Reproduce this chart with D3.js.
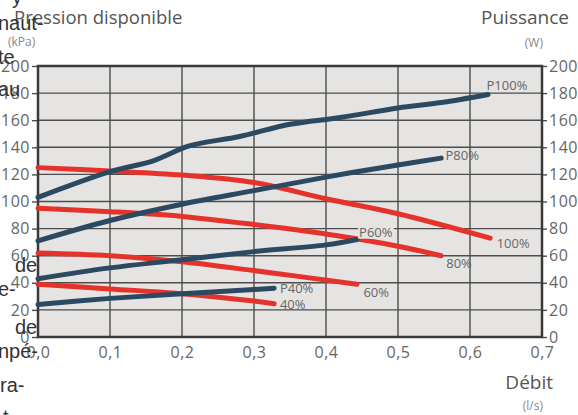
<!DOCTYPE html>
<html>
<head>
<meta charset="utf-8">
<title>Pression disponible / Puissance</title>
<script src="https://d3js.org/d3.v7.min.js"></script>
<style>
  body { margin: 0; background: #fff; }
  svg text { font-family: "Open Sans", sans-serif; }
</style>
</head>
<body>
<div id="chart"></div>
<script>
// flow values in l/s, pressure in kPa (left), power in W (right)
const xTicks = [0, 0.1, 0.2, 0.3, 0.4, 0.5, 0.6, 0.7];
const yTicks = [0, 20, 40, 60, 80, 100, 120, 140, 160, 180, 200];

// power curves (blue, right axis)
const p100 = [[0,103],[0.1,122],[0.16,130],[0.21,141],[0.28,148],[0.35,157],[0.42,162],[0.5,169],[0.56,173],[0.625,179]];
const p80 = [[0,71],[0.1,86],[0.2,98],[0.3,108],[0.4,118],[0.5,127],[0.56,132]];
const p60 = [[0,43],[0.1,51],[0.2,57],[0.3,63],[0.4,68],[0.443,72]];
const p40 = [[0,24],[0.1,28.5],[0.2,32],[0.3,35],[0.328,36]];

// pressure curves (red, left axis)
const h100 = [[0,125],[0.1,122.5],[0.2,119.5],[0.3,114],[0.4,102],[0.5,91],[0.628,73]];
const h80 = [[0,95],[0.1,92.5],[0.2,89],[0.3,83],[0.4,76],[0.5,67],[0.56,60]];
const h60 = [[0,62],[0.1,60],[0.2,55.5],[0.3,49],[0.443,39]];
const h40 = [[0,39],[0.1,35.5],[0.2,32],[0.3,26.5],[0.328,24.5]];

const powerSeries = [p100, p80, p60, p40];
const pressureSeries = [h100, h80, h60, h40];

// curve labels: text and anchor point in data units
const curveLabels = [
  {text: "P100%", x: 0.623, y: 182},
  {text: "P80%", x: 0.566, y: 130.5},
  {text: "P60%", x: 0.446, y: 74},
  {text: "P40%", x: 0.336, y: 32.5},
  {text: "100%", x: 0.637, y: 66},
  {text: "80%", x: 0.567, y: 51},
  {text: "60%", x: 0.452, y: 29.5},
  {text: "40%", x: 0.336, y: 20.5}
];

// bits of the surrounding page text that show at the left edge
const pageBits = [
  {t: "y", x: 12, y: 4}, {t: "naut-", x: -2, y: 30}, {t: "te", x: -2, y: 64},
  {t: "au", x: -2, y: 96}, {t: "de", x: 15, y: 272}, {t: "e-", x: -2, y: 296},
  {t: "de", x: 15, y: 334}, {t: "npé-", x: -2, y: 358}, {t: "ra-", x: 0, y: 392},
  {t: "t", x: 3, y: 424}
];

const W = 578, H = 415;
const svg = d3.select("#chart").append("svg").attr("width", W).attr("height", H);

const x = d3.scaleLinear().domain([0, 0.7]).range([38, 542]);
const y = d3.scaleLinear().domain([0, 200]).range([337, 66]);

const fmt = v => d3.format(".1f")(v).replace(".", ",");

// plot background
svg.append("rect")
  .attr("x", x(0)).attr("y", y(200))
  .attr("width", x(0.7) - x(0)).attr("height", y(0) - y(200))
  .attr("fill", "#e5e4e2");

// grid
svg.append("g").selectAll("line").data(yTicks).join("line")
  .attr("x1", x(0)).attr("x2", x(0.7))
  .attr("y1", d => y(d)).attr("y2", d => y(d))
  .attr("stroke", "#4d4d4d").attr("stroke-width", 1.4);
svg.append("g").selectAll("line").data(xTicks).join("line")
  .attr("x1", d => x(d)).attr("x2", d => x(d))
  .attr("y1", y(0)).attr("y2", y(200))
  .attr("stroke", "#4d4d4d").attr("stroke-width", 1.4);

// axes
const axisL = svg.append("g").attr("transform", `translate(${x(0)},0)`)
  .call(d3.axisLeft(y).tickValues(yTicks).tickSize(6).tickPadding(2));
const axisR = svg.append("g").attr("transform", `translate(${x(0.7)},0)`)
  .call(d3.axisRight(y).tickValues(yTicks).tickSize(5).tickPadding(2));
const axisB = svg.append("g").attr("transform", `translate(0,${y(0)})`)
  .call(d3.axisBottom(x).tickValues(xTicks).tickFormat(fmt).tickSize(0).tickPadding(10));
[axisL, axisR, axisB].forEach(g => {
  g.select(".domain").remove();
  g.selectAll(".tick line").attr("stroke", "#4d4d4d").attr("stroke-width", 1.4);
  g.selectAll(".tick text").attr("fill", "#666")
    .style("font-size", "16px").style("letter-spacing", "0.5px");
});

// frame
svg.append("rect")
  .attr("x", x(0)).attr("y", y(200))
  .attr("width", x(0.7) - x(0)).attr("height", y(0) - y(200))
  .attr("fill", "none").attr("stroke", "#3a3a3a").attr("stroke-width", 2.5);

const line = d3.line().x(d => x(d[0])).y(d => y(d[1])).curve(d3.curveCatmullRom.alpha(0.5));

// pressure curves
svg.append("g").selectAll("path").data(pressureSeries).join("path")
  .attr("d", line).attr("fill", "none")
  .attr("stroke", "#e5322b").attr("stroke-width", 5).attr("stroke-linecap", "round");

// power curves
svg.append("g").selectAll("path").data(powerSeries).join("path")
  .attr("d", line).attr("fill", "none")
  .attr("stroke", "#2b4a62").attr("stroke-width", 5).attr("stroke-linecap", "round");

// curve labels
const lg = svg.append("g");
curveLabels.forEach(l => {
  const t = lg.append("text")
    .attr("x", x(l.x)).attr("y", y(l.y))
    .attr("fill", "#666").style("font-size", "13px")
    .text(l.text);
  if (l.text === "P60%") {
    const b = t.node().getBBox();
    lg.insert("rect", () => t.node())
      .attr("x", b.x - 1).attr("y", b.y + 2)
      .attr("width", b.width + 2).attr("height", b.height - 4)
      .attr("fill", "#e5e4e2");
  }
});

// axis titles
svg.append("text").attr("x", 14).attr("y", 24)
  .attr("fill", "#555").style("font-size", "18.5px").text("Pression disponible");
svg.append("text").attr("x", 8).attr("y", 46)
  .attr("fill", "#888").style("font-size", "12px").text("(kPa)");
svg.append("text").attr("x", 569).attr("y", 24).attr("text-anchor", "end")
  .attr("fill", "#555").style("font-size", "19px").text("Puissance");
svg.append("text").attr("x", 543).attr("y", 47).attr("text-anchor", "end")
  .attr("fill", "#888").style("font-size", "12px").text("(W)");
svg.append("text").attr("x", 553).attr("y", 389).attr("text-anchor", "end")
  .attr("fill", "#555").style("font-size", "19px").text("Débit");
svg.append("text").attr("x", 543).attr("y", 410).attr("text-anchor", "end")
  .attr("fill", "#888").style("font-size", "12px").text("(l/s)");

// stray page text
svg.append("g").selectAll("text").data(pageBits).join("text")
  .attr("x", d => d.x).attr("y", d => d.y)
  .attr("fill", "#333").style("font-size", "20px")
  .style("font-family", "'Liberation Sans', sans-serif")
  .text(d => d.t);
</script>
</body>
</html>
